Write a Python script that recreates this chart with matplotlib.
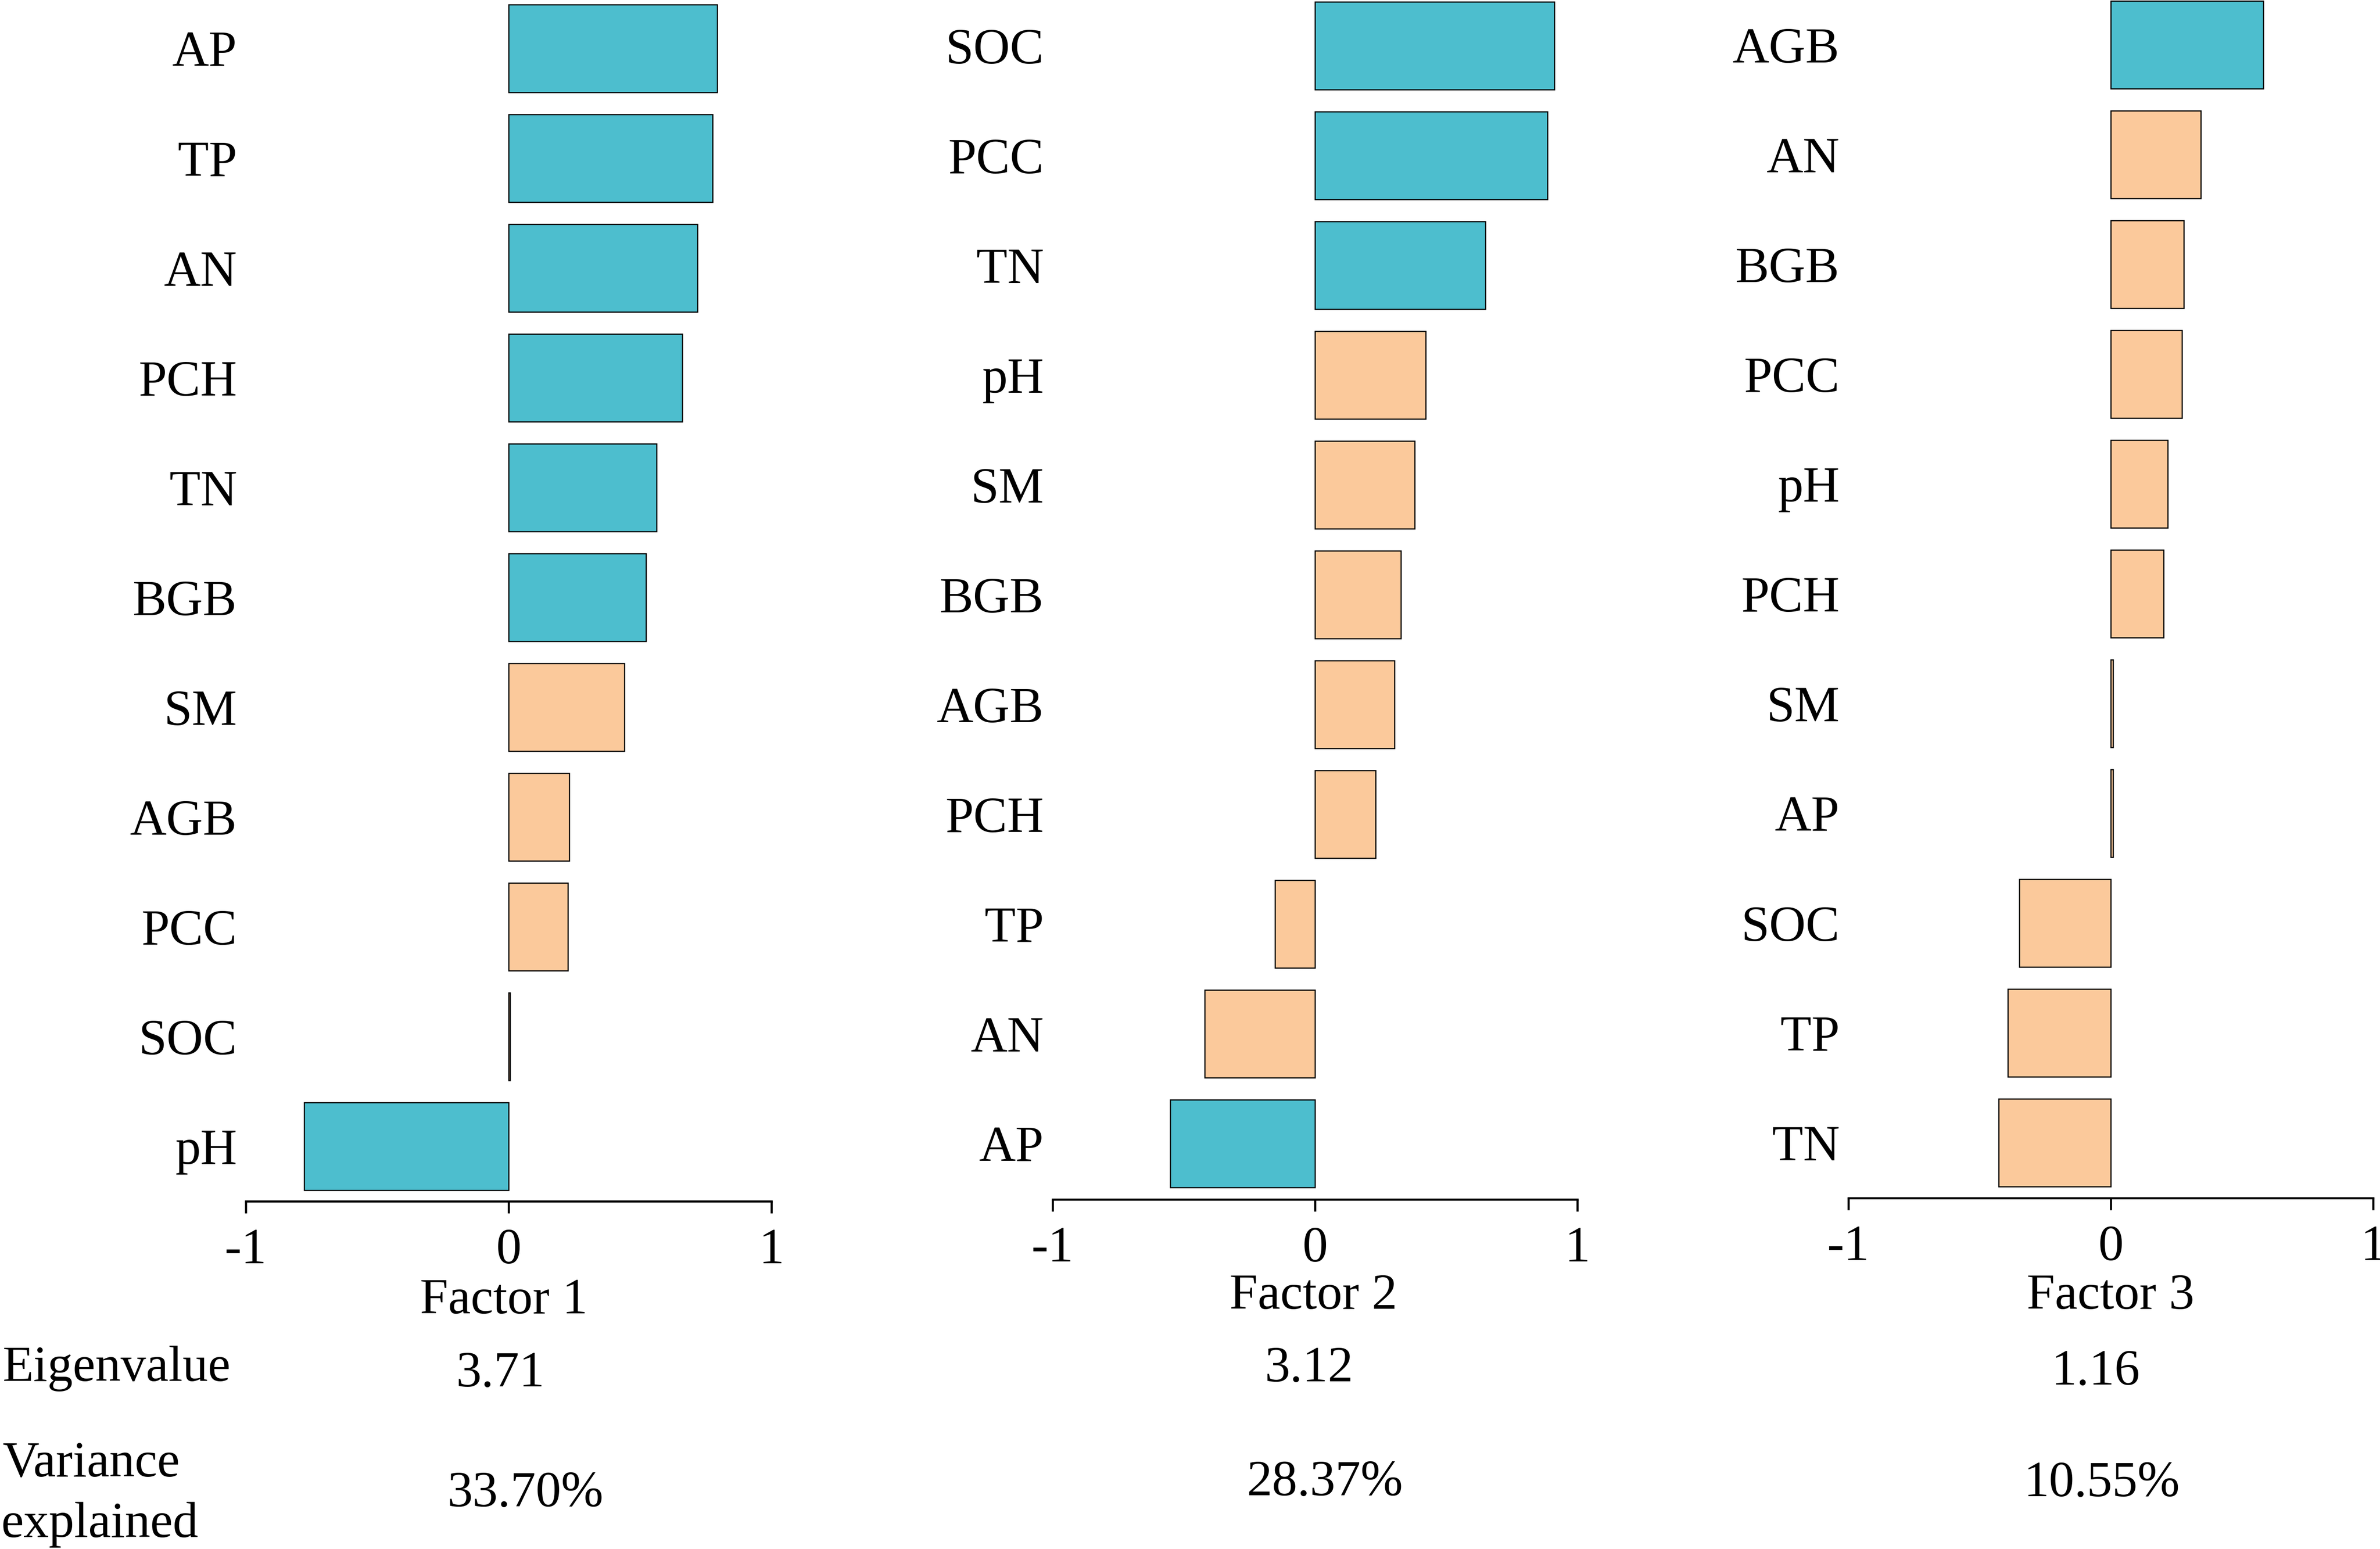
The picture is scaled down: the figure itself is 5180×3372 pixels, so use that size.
import matplotlib
matplotlib.use("Agg")
import matplotlib.pyplot as plt

plt.rcParams['font.family'] = ['Liberation Serif', 'DejaVu Serif']

# ---------------- data ----------------
labels_f1 = ["AP", "TP", "AN", "PCH", "TN", "BGB", "SM", "AGB", "PCC", "SOC", "pH"]
values_f1 = [0.794, 0.776, 0.718, 0.660, 0.563, 0.523, 0.440, 0.231, 0.225, 0.006, -0.778]

labels_f2 = ["SOC", "PCC", "TN", "pH", "SM", "BGB", "AGB", "PCH", "TP", "AN", "AP"]
values_f2 = [0.913, 0.886, 0.649, 0.422, 0.380, 0.328, 0.303, 0.231, -0.153, -0.421, -0.552]

labels_f3 = ["AGB", "AN", "BGB", "PCC", "pH", "PCH", "SM", "AP", "SOC", "TP", "TN"]
values_f3 = [0.582, 0.344, 0.279, 0.271, 0.218, 0.202, 0.008, 0.008, -0.348, -0.392, -0.427]

factor_names = ["Factor 1", "Factor 2", "Factor 3"]
eigenvalues = ["3.71", "3.12", "1.16"]
variance_explained = ["33.70%", "28.37%", "10.55%"]
threshold = 0.5

TEAL = "#4DBECE"
PEACH = "#FBC99B"

# ---------------- layout (pixels) ----------------
W, H = 5180, 3372
DPI = 300
fig = plt.figure(figsize=(W / DPI, H / DPI), dpi=DPI)

x_minus1 = [535, 2291, 4023]     # pixel of x=-1
x_plus1 = [1679, 2862 + 571, 5165]
spine_y = [2615, 2611, 2608]
top_bar_y = [10, 4, 2]
pitch = 239.0

label_pos = [(1096, 2859), (2859, 2849), (4593, 2849)]
eig_pos = [(1089, 3018), (2849, 3007), (4561, 3014)]
var_pos = [(1143, 3279), (2883, 3255), (4574, 3257)]

FS = 26.5

def fx(px):
    return px / W

def fy(py):
    return 1 - py / H

panels = [(labels_f1, values_f1), (labels_f2, values_f2), (labels_f3, values_f3)]

for k, (labs, vals) in enumerate(panels):
    S = spine_y[k]
    T = top_bar_y[k]
    ax = fig.add_axes([fx(x_minus1[k]), fy(S), (x_plus1[k] - x_minus1[k]) / W, S / H])
    pos = list(range(len(labs)))
    colors = [TEAL if abs(v) > threshold else PEACH for v in vals]
    ax.barh(pos, vals, height=0.8, color=colors, edgecolor="black", linewidth=0.6)
    ax.set_xlim(-1, 1)
    ax.set_ylim(-0.4 + (S - T) / pitch, -0.4 - T / pitch)
    ax.set_xticks([-1, 0, 1])
    ax.set_xticklabels(["-1", "0", "1"])
    ax.set_yticks(pos)
    ax.set_yticklabels(labs)
    for side in ["top", "right", "left"]:
        ax.spines[side].set_visible(False)
    ax.spines["bottom"].set_linewidth(1.1)
    ax.tick_params(axis="x", direction="out", length=6.24, width=1.1, pad=7.7,
                   labelsize=FS)
    ax.tick_params(axis="y", length=0, pad=4.56, labelsize=FS)
    ax.patch.set_alpha(0)

    fig.text(fx(label_pos[k][0]), fy(label_pos[k][1]), factor_names[k],
             ha="center", va="baseline", fontsize=FS)
    fig.text(fx(eig_pos[k][0]), fy(eig_pos[k][1]), eigenvalues[k],
             ha="center", va="baseline", fontsize=FS)
    fig.text(fx(var_pos[k][0]), fy(var_pos[k][1]), variance_explained[k],
             ha="center", va="baseline", fontsize=FS)

fig.text(fx(6), fy(3006), "Eigenvalue", ha="left", va="baseline", fontsize=FS)
fig.text(fx(6), fy(3214), "Variance", ha="left", va="baseline", fontsize=FS)
fig.text(fx(3), fy(3346), "explained", ha="left", va="baseline", fontsize=FS)

fig.savefig("out.png", dpi=DPI, facecolor="white")
